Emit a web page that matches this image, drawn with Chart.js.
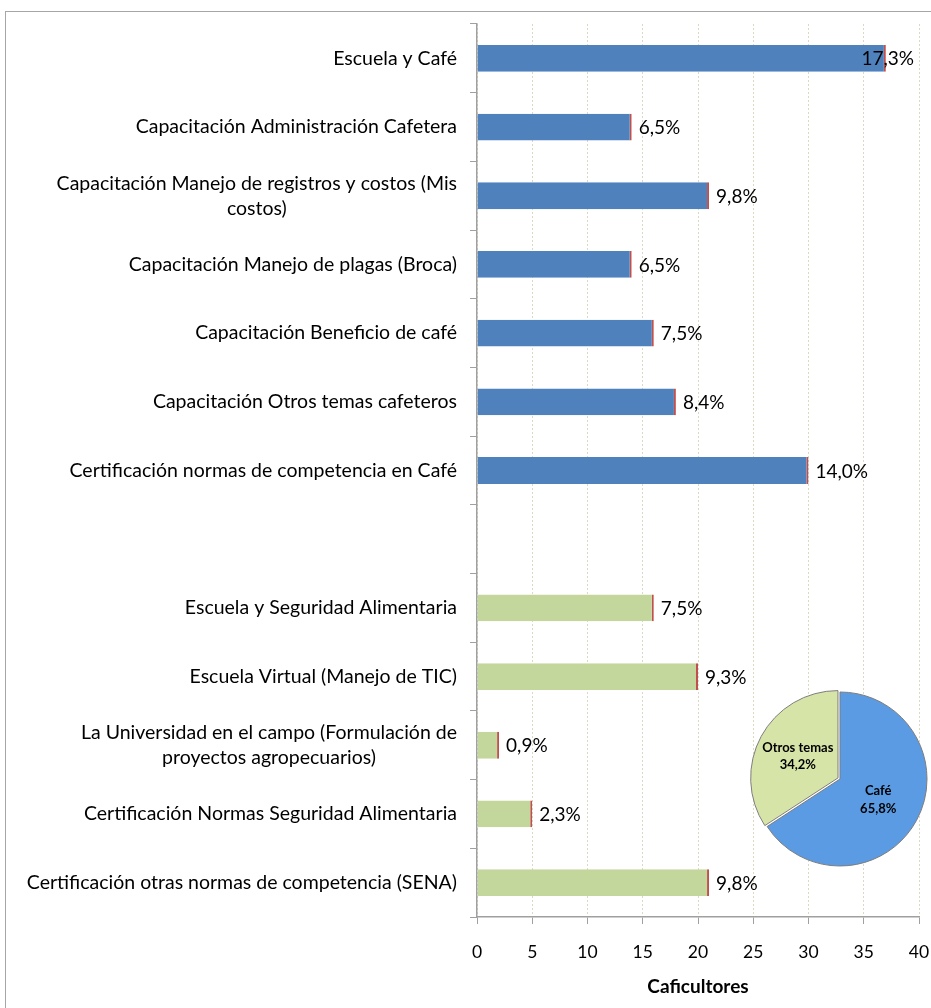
<!DOCTYPE html>
<html>
<head>
<meta charset="utf-8">
<script src="https://cdn.jsdelivr.net/npm/chart.js@4"></script>
<style>
html, body { margin: 0; padding: 0; background: #fff; overflow: hidden; }
#wrap { position: relative; width: 931px; height: 1008px; overflow: hidden; }
#frame { position: absolute; left: 5px; top: 11px; width: 960px; height: 1020px; border: 1px solid #a6a6a6; }
#bars { position: absolute; left: 0; top: 0; }
#pie { position: absolute; left: 735px; top: 674px; }
</style>
</head>
<body>
<div id="wrap">
  <div id="frame"></div>
  <canvas id="bars" width="931" height="1008"></canvas>
  <canvas id="pie" width="210" height="210"></canvas>
</div>
<script>
// Programas del cafe (barras azules)
const cafeLabels = [
    'Escuela y Café',
    'Capacitación Administración Cafetera',
    ['Capacitación Manejo de registros y costos (Mis', 'costos)'],
    'Capacitación Manejo de plagas (Broca)',
    'Capacitación Beneficio de café',
    'Capacitación Otros temas cafeteros',
    'Certificación normas de competencia en Café'
];
const cafeValues = [37, 14, 21, 14, 16, 18, 30];
const cafePct = ['17,3%', '6,5%', '9,8%', '6,5%', '7,5%', '8,4%', '14,0%'];

// Otros temas (barras verdes)
const otrosLabels = [
    'Escuela y Seguridad Alimentaria',
    'Escuela Virtual (Manejo de TIC)',
    ['La Universidad en el campo (Formulación de', 'proyectos agropecuarios)'],
    'Certificación Normas Seguridad Alimentaria',
    'Certificación otras normas de competencia (SENA)'
];
const otrosValues = [16, 20, 2, 5, 21];
const otrosPct = ['7,5%', '9,3%', '0,9%', '2,3%', '9,8%'];

const xTicks = [0, 5, 10, 15, 20, 25, 30, 35, 40];
const xTitle = 'Caficultores';

// Torta resumen
const pieLabels = ['Café', 'Otros temas'];
const pieValues = [65.8, 34.2];
const piePct = ['65,8%', '34,2%'];

const FONT = 'Lato, "Open Sans", sans-serif';

// Build the combined category list (one empty slot between the groups)
const allLabels = [...cafeLabels, '', ...otrosLabels];
const cafeData = [...cafeValues, null, ...otrosValues.map(() => null)];
const otrosData = [...cafeValues.map(() => null), null, ...otrosValues];
const allPct = [...cafePct, '', ...otrosPct];

// Draws the category names, right aligned, wrapped lines centred
const yLabelPlugin = {
    id: 'yLabels',
    afterDraw(chart) {
        const ctx = chart.ctx;
        const y = chart.scales.y;
        const right = chart.chartArea.left - 20;
        ctx.save();
        ctx.font = '19.5px ' + FONT;
        ctx.fillStyle = '#000';
        ctx.textAlign = 'center';
        ctx.textBaseline = 'middle';
        allLabels.forEach((lab, i) => {
            const lines = Array.isArray(lab) ? lab : [lab];
            const w = Math.max(...lines.map(l => ctx.measureText(l).width));
            const cx = right - w / 2;
            const py = y.getPixelForTick(i);
            lines.forEach((l, k) => {
                ctx.fillText(l, cx, py + (k - (lines.length - 1) / 2) * 25);
            });
        });
        ctx.restore();
    }
};

// Percentage labels after each bar
const pctPlugin = {
    id: 'pctLabels',
    afterDatasetsDraw(chart) {
        const ctx = chart.ctx;
        const limit = chart.chartArea.right - 5;
        ctx.save();
        ctx.font = '19px ' + FONT;
        ctx.fillStyle = '#000';
        ctx.textAlign = 'left';
        ctx.textBaseline = 'middle';
        chart.data.datasets.forEach((ds, d) => {
            chart.getDatasetMeta(d).data.forEach((bar, i) => {
                if (ds.data[i] == null) return;
                const txt = allPct[i];
                const w = ctx.measureText(txt).width;
                const tx = Math.min(bar.x + 7, limit - w);
                ctx.fillText(txt, tx, bar.y + 1);
            });
        });
        ctx.restore();
    }
};

new Chart(document.getElementById('bars'), {
    type: 'bar',
    data: {
        labels: allLabels,
        datasets: [{
            label: 'Café',
            data: cafeData,
            backgroundColor: '#4f81bd',
            borderColor: '#c0504d',
            borderWidth: { right: 2, left: 0, top: 0, bottom: 0 },
            borderSkipped: false
        }, {
            label: 'Otros temas',
            data: otrosData,
            backgroundColor: '#c3d69b',
            borderColor: '#c0504d',
            borderWidth: { right: 2, left: 0, top: 0, bottom: 0 },
            borderSkipped: false
        }]
    },
    options: {
        indexAxis: 'y',
        responsive: false,
        animation: false,
        layout: { padding: { top: 24, right: 12, bottom: 0, left: 0 } },
        datasets: { bar: { categoryPercentage: 1, barPercentage: 0.39 } },
        plugins: { legend: { display: false }, tooltip: { enabled: false } },
        scales: {
            x: {
                stacked: true,
                min: 0,
                max: 40,
                afterBuildTicks: s => { s.ticks = xTicks.map(v => ({ value: v })); },
                afterFit: s => { s.height = 91; s.paddingLeft = 0; s.paddingRight = 0; },
                ticks: { color: '#000', padding: 18, font: { family: FONT, size: 17.5 } },
                grid: { color: '#ddd8c0', lineWidth: 1, tickColor: '#a0a0a0', tickLength: 7 },
                border: { color: '#a0a0a0', width: 1.5, dash: [2, 2] },
                title: {
                    display: true,
                    text: xTitle,
                    color: '#000',
                    font: { family: FONT, size: 19, weight: 'bold' },
                    padding: { top: 0, bottom: 9.5 }
                }
            },
            y: {
                stacked: true,
                afterFit: s => { s.width = 477; s.paddingTop = 0; s.paddingBottom = 0; },
                ticks: { display: false },
                grid: { drawOnChartArea: false, offset: true, color: '#a0a0a0', tickLength: 7 },
                border: { color: '#a0a0a0', width: 1.5 }
            }
        }
    },
    plugins: [yLabelPlugin, pctPlugin]
});

// Labels inside the pie slices
const pieLabelPlugin = {
    id: 'pieLabels',
    afterDatasetsDraw(chart) {
        const ctx = chart.ctx;
        ctx.save();
        ctx.font = 'bold 13px ' + FONT;
        ctx.fillStyle = '#000';
        ctx.textAlign = 'center';
        ctx.textBaseline = 'middle';
        chart.getDatasetMeta(0).data.forEach((arc, i) => {
            const p = arc.getProps(['x', 'y', 'startAngle', 'endAngle', 'outerRadius']);
            const mid = (p.startAngle + p.endAngle) / 2;
            const r = p.outerRadius * 0.5 + (arc.options.offset || 0) * 0.5;
            const cx = p.x + Math.cos(mid) * r;
            const cy = p.y + Math.sin(mid) * r;
            ctx.fillText(pieLabels[i], cx, cy - 8.5);
            ctx.fillText(piePct[i], cx, cy + 9);
        });
        ctx.restore();
    }
};

new Chart(document.getElementById('pie'), {
    type: 'pie',
    data: {
        labels: pieLabels,
        datasets: [{
            data: pieValues,
            backgroundColor: ['#5b9be3', '#d7e4a8'],
            borderColor: '#7d7d7d',
            borderWidth: 1,
            offset: [0, 9]
        }]
    },
    options: {
        responsive: false,
        animation: false,
        radius: 87,
        plugins: { legend: { display: false }, tooltip: { enabled: false } }
    },
    plugins: [pieLabelPlugin]
});
</script>
</body>
</html>
